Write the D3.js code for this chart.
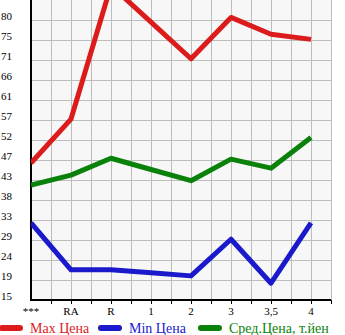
<!DOCTYPE html>
<html>
<head>
<meta charset="utf-8">
<script src="https://cdn.jsdelivr.net/npm/d3@7"></script>
<style>
  body { margin: 0; background: #fff; }
  text { font-family: "Liberation Serif", "DejaVu Serif", serif; }
</style>
</head>
<body>
<script>
"use strict";

var categories = ["***", "RA", "R", "1", "2", "3", "3,5", "4"];
var maxPrice = [46.8, 57, 88, 79.5, 71, 80.6, 76.7, 75.5];
var minPrice = [32.9, 22, 22, 21.3, 20.6, 29.1, 18.9, 32.9];
var avgPrice = [41.7, 44, 47.9, 45.3, 42.7, 47.7, 45.6, 52.7];
var yTickLabels = ["15", "19", "24", "29", "33", "38", "43", "47", "52", "57", "61", "66", "71", "75", "80"];
var legendNames = ["Max Цена", "Min Цена", "Сред.Цена, т.йен"];

var width = 345, height = 335;
var plotLeft = 31, plotRight = 331, plotTop = 0, plotBottom = 300;
var yStep = (80 - 15) / 14;

var svg = d3.select("body").append("svg")
  .attr("width", width)
  .attr("height", height);

var x = d3.scalePoint().domain(categories).range([plotLeft, plotRight - 20]);
var y = d3.scaleLinear().domain([15, 15 + yStep * 15]).range([plotBottom, plotTop]);

// plot background
svg.append("rect")
  .attr("x", plotLeft).attr("y", plotTop)
  .attr("width", plotRight - plotLeft).attr("height", plotBottom - plotTop)
  .attr("fill", "#f7f7f7");

// grid
var yTicks = d3.range(yTickLabels.length).map(function (i) { return 15 + i * yStep; });
svg.append("g").selectAll("line")
  .data(yTicks.slice(1))
  .enter().append("line")
  .attr("x1", plotLeft).attr("x2", plotRight)
  .attr("y1", function (d) { return Math.round(y(d)) + 0.5; })
  .attr("y2", function (d) { return Math.round(y(d)) + 0.5; })
  .attr("stroke", "#bdbdbd").attr("stroke-width", 1);

var vLines = d3.range(plotLeft + 20, plotRight + 1, 20);
svg.append("g").selectAll("line")
  .data(vLines)
  .enter().append("line")
  .attr("x1", function (d) { return d + 0.5; })
  .attr("x2", function (d) { return d + 0.5; })
  .attr("y1", plotTop).attr("y2", plotBottom)
  .attr("stroke", "#bdbdbd").attr("stroke-width", 1);

// axes
svg.append("line")
  .attr("x1", plotLeft).attr("x2", plotLeft)
  .attr("y1", plotTop).attr("y2", plotBottom + 1)
  .attr("stroke", "#000").attr("stroke-width", 2);
svg.append("line")
  .attr("x1", plotLeft - 1).attr("x2", plotRight)
  .attr("y1", plotBottom).attr("y2", plotBottom)
  .attr("stroke", "#000").attr("stroke-width", 2);

// small ticks between categories
svg.append("g").selectAll("line")
  .data(vLines)
  .enter().append("line")
  .attr("x1", function (d) { return d + 0.5; })
  .attr("x2", function (d) { return d + 0.5; })
  .attr("y1", plotBottom).attr("y2", plotBottom + 4)
  .attr("stroke", "#000").attr("stroke-width", 1);

// y labels
svg.append("g").selectAll("text")
  .data(yTicks)
  .enter().append("text")
  .attr("x", 12)
  .attr("y", function (d) { return y(d) - 0.5; })
  .attr("text-anchor", "end")
  .attr("font-size", 11)
  .attr("fill", "#000")
  .text(function (d, i) { return yTickLabels[i]; });

// x labels
svg.append("g").selectAll("text")
  .data(categories)
  .enter().append("text")
  .attr("x", function (d) { return x(d); })
  .attr("y", 315)
  .attr("text-anchor", "middle")
  .attr("font-size", 11)
  .attr("fill", "#000")
  .text(function (d) { return d; });

// series
var series = [
  { name: legendNames[0], values: maxPrice, color: "#dc1c1c" },
  { name: legendNames[1], values: minPrice, color: "#1a1acc" },
  { name: legendNames[2], values: avgPrice, color: "#0a820a" }
];

var line = d3.line()
  .x(function (d, i) { return x(categories[i]); })
  .y(function (d) { return y(d); });

svg.append("clipPath").attr("id", "plotclip")
  .append("rect")
  .attr("x", plotLeft).attr("y", plotTop)
  .attr("width", plotRight - plotLeft).attr("height", plotBottom - plotTop);

svg.append("g").attr("clip-path", "url(#plotclip)")
  .selectAll("path")
  .data(series)
  .enter().append("path")
  .attr("d", function (d) { return line(d.values); })
  .attr("fill", "none")
  .attr("stroke", function (d) { return d.color; })
  .attr("stroke-width", 5)
  .attr("stroke-linejoin", "round");

// legend
var legendX = [0, 99, 199];
var legend = svg.append("g").selectAll("g")
  .data(series)
  .enter().append("g")
  .attr("transform", function (d, i) { return "translate(" + legendX[i] + ",328)"; });

legend.append("line")
  .attr("x1", 2).attr("x2", 20)
  .attr("y1", 0).attr("y2", 0)
  .attr("stroke", function (d) { return d.color; })
  .attr("stroke-width", 6)
  .attr("stroke-linecap", "round");

legend.append("text")
  .attr("x", 30)
  .attr("y", 5)
  .attr("font-size", 14)
  .attr("fill", function (d) { return d.color; })
  .text(function (d) { return d.name; });
</script>
</body>
</html>
